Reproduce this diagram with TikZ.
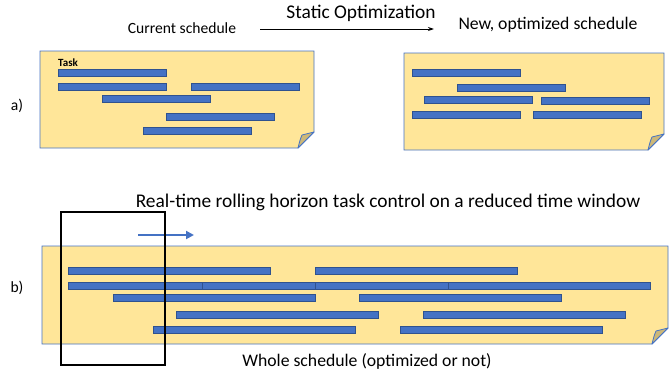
\documentclass[tikz,border=0pt]{standalone}
\usepackage{fontspec}
\setmainfont{Carlito}
\usetikzlibrary{arrows.meta}
\definecolor{noteyellow}{HTML}{FFE699}
\definecolor{taskblue}{HTML}{4472C4}
\definecolor{taskedge}{HTML}{2F528F}
\definecolor{foldtan}{HTML}{CDB878}

% sticky note: x1, y1, x2, y2 (fold of 16 at the lower right corner)
\newcommand{\stickynote}[4]{%
  \path[note] (#1,#2) -- (#3,#2) -- (#3,#4-16) -- (#3-16,#4) -- (#1,#4) -- cycle;
  \path[fold] (#3-16,#4) .. controls (#3-14,#4-8) .. (#3-12,#4-13) -- (#3,#4-16) -- cycle;
}

\begin{document}
\begin{tikzpicture}[x=1pt,y=-1pt,
  note/.style={fill=noteyellow,draw=taskblue,line width=0.8pt},
  fold/.style={fill=foldtan,draw=taskblue,line width=0.8pt,line join=round},
  task/.style={fill=taskblue,draw=taskedge,line width=0.6pt},
  label/.style={font=\fontsize{15.6}{17}\selectfont},
  midlabel/.style={font=\fontsize{17.7}{19}\selectfont},
  biglabel/.style={font=\fontsize{19.4}{21}\selectfont}]

\useasboundingbox (0,0) rectangle (670,375);

% a) static optimization
\node[label] (current) at (182,28) {Current schedule};
\node[midlabel] (newsched) at (548,25) {New, optimized schedule};
\node[biglabel] (optlabel) at (361,13) {Static Optimization};
\coordinate (optstart) at (260,29);
\coordinate (optend) at (434,29);
\draw[-{Stealth[length=6pt,width=4pt]},line width=1pt] (optstart) -- (optend);
\node[label] (alabel) at (17,106) {a)};

\stickynote{40}{51}{314}{148}
\node[font=\fontsize{11}{12}\selectfont\bfseries,anchor=west,inner sep=0pt] (task) at (58,63) {Task};
\foreach \x/\y in {58/69, 58/83, 191/83, 102/95, 166/113, 143/127}
  \draw[task] (\x,\y) rectangle ++(108,7);

\stickynote{404}{53}{664}{150}
\foreach \x/\y in {412/69, 457/84, 424/96, 541/97, 412/111, 533/111}
  \draw[task] (\x,\y) rectangle ++(108,7);

% b) rolling horizon
\node[biglabel] (rolltitle) at (388,202) {Real-time rolling horizon task control on a reduced time window};
\node[label] (blabel) at (17,288) {b)};
\stickynote{42}{246}{668}{344}
\foreach \x/\y in {68/267, 315/267,
                   68/282, 202/282, 315/282, 448/282,
                   113/294, 359/294,
                   176/311, 423/311,
                   153/326, 400/326}
  \draw[task] (\x,\y) rectangle ++(202,7.5);
\node[midlabel] (whole) at (367,361) {Whole schedule (optimized or not)};

% moving window
\coordinate (movestart) at (138,235);
\coordinate (moveend) at (194,235);
\draw[-{Triangle[length=8pt,width=8pt]},taskblue,line width=2.6pt] (movestart) -- (moveend);
\draw[line width=1.2pt] (61,212) rectangle (165,365);
\end{tikzpicture}
\end{document}
